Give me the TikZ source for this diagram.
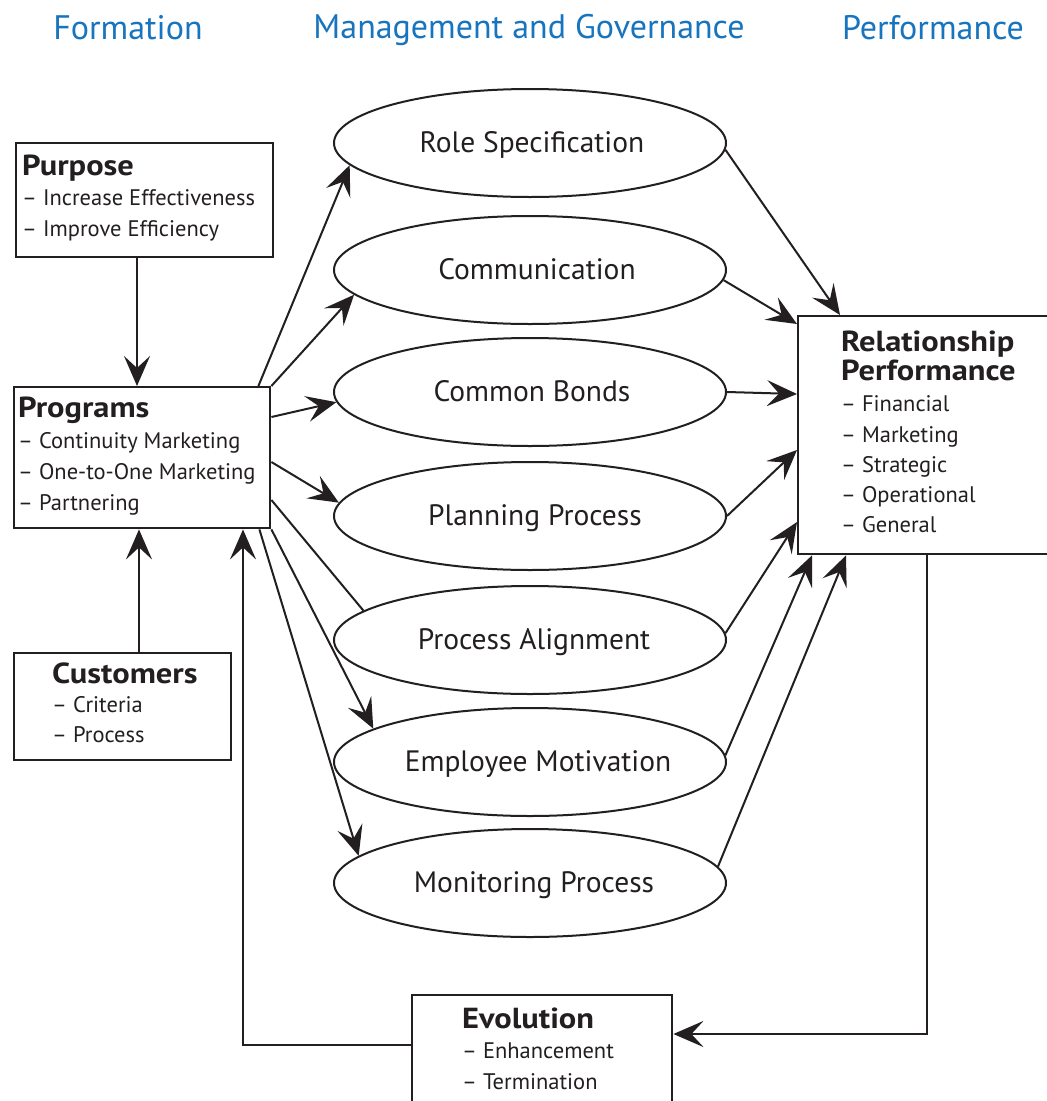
\documentclass[tikz,border=0pt]{standalone}
\usepackage{fontspec}
\setmainfont{PT Sans}
\usetikzlibrary{arrows.meta,shapes.geometric,calc}
\definecolor{ink}{RGB}{35,31,32}
\definecolor{hblue}{RGB}{23,116,190}
\newcommand{\boxtitle}[1]{\scalebox{1.12}[1]{#1}}
\begin{document}
\begin{tikzpicture}[x=1pt,y=-1pt,
  box/.style={draw=ink,line width=2.4pt,anchor=north west,inner sep=0pt,rectangle},
  oval/.style={draw=ink,line width=2pt,ellipse,minimum width=392pt,minimum height=108pt,inner sep=0pt},
  olabel/.style={anchor=base,inner sep=0pt,text=ink,font=\fontsize{29.5}{31}\selectfont},
  ttl/.style={anchor=base west,inner sep=0pt,text=ink,font=\bfseries\fontsize{29}{31}\selectfont},
  itm/.style={anchor=base west,inner sep=0pt,text=ink,font=\fontsize{22.5}{25}\selectfont},
  hdr/.style={anchor=base,inner sep=0pt,text=hblue,font=\fontsize{34}{36}\selectfont},
  con/.style={draw=ink,line width=2pt},
  arr/.style={con,-{Stealth[length=30pt,width=26pt,inset=12pt]}}]
\useasboundingbox (0,0) rectangle (1047,1101);
\clip (0,0) rectangle (1047,1101);
\fill[white] (0,0) rectangle (1047,1101);

% headers
\node[hdr] (h1) at (128,39) {Formation};
\node[hdr] (h2) at (529,38) {Management and Governance};
\node[hdr] (h3) at (933,39) {Performance};

% boxes
\node[box,minimum width=257pt,minimum height=114pt] (purpose) at (15,142) {};
\node[box,minimum width=256pt,minimum height=141pt] (prog) at (13,386) {};
\node[box,minimum width=217pt,minimum height=107pt] (cust) at (13,652) {};
\node[box,minimum width=263pt,minimum height=238pt] (rp) at (797,315) {};
\node[box,minimum width=260pt,minimum height=121pt] (evo) at (411,994) {};

% box texts
\node[ttl] (tpur) at (22,175) {\boxtitle{Purpose}};
\node[itm] (tpur1) at (22,205) {– Increase Effectiveness};
\node[itm] (tpur2) at (22,236) {– Improve Efficiency};

\node[ttl] (tprog) at (18,417) {\boxtitle{Programs}};
\node[itm] (tprog1) at (18,448) {– Continuity Marketing};
\node[itm] (tprog2) at (18,479) {– One-to-One Marketing};
\node[itm] (tprog3) at (18,510) {– Partnering};

\node[ttl] (tcus) at (52,683) {\boxtitle{Customers}};
\node[itm] (tcus1) at (52,712) {– Criteria};
\node[itm] (tcus2) at (52,742) {– Process};

\node[ttl] (trp1) at (841,351) {\boxtitle{Relationship}};
\node[ttl] (trp2) at (841,380) {\boxtitle{Performance}};
\node[itm] (trpa) at (841,411) {– Financial};
\node[itm] (trpb) at (841,442) {– Marketing};
\node[itm] (trpc) at (841,472) {– Strategic};
\node[itm] (trpd) at (841,502) {– Operational};
\node[itm] (trpe) at (841,532) {– General};

\node[ttl] (tevo) at (462,1028) {\boxtitle{Evolution}};
\node[itm] (tevo1) at (462,1058) {– Enhancement};
\node[itm] (tevo2) at (462,1089) {– Termination};

% ellipses
\node[oval] (rs) at (530,143) {};
\node[oval] (cm) at (530,270) {};
\node[oval] (cb) at (530,392) {};
\node[oval] (pp) at (530,516) {};
\node[oval] (pa) at (530,640) {};
\node[oval] (em) at (530,762) {};
\node[oval] (mp) at (530,883) {};

\node[olabel] (lrs) at (532,152) {Role Specification};
\node[olabel] (lcm) at (537,279) {Communication};
\node[olabel] (lcb) at (532,401) {Common Bonds};
\node[olabel] (lpp) at (535,525) {Planning Process};
\node[olabel] (lpa) at (534,649) {Process Alignment};
\node[olabel] (lem) at (538,771) {Employee Motivation};
\node[olabel] (lmp) at (534,892) {Monitoring Process};

% left connectors
\draw[arr] ($(purpose.south west)+(122,0)$) -- ($(prog.north west)+(124,0)$);
\draw[arr] ($(cust.north west)+(126,0)$) -- ($(prog.south west)+(126,0)$);
\draw[arr] ($(prog.north east)+(-13,0)$) -- (rs.187.8);
\draw[arr] (prog.north east) -- (cm.188.2);
\draw[arr] ($(prog.north east)+(0,31)$) -- (cb.183.3);
\draw[arr] ($(prog.north east)+(0,76)$) -- (pp.176.7);
\draw[con] ($(prog.north east)+(0,114)$) -- (pa.170);
\draw[arr] (prog.south east) -- (em.168.8);
\draw[arr] ($(prog.south east)+(-12,0)$) -- (mp.171.5);

% right connectors
\draw[arr] (rs.358.8) -- ($(rp.north west)+(43,0)$);
\draw[arr] (cm.357) -- ($(rp.north west)+(0,9)$);
\draw[arr] (cb.0) -- ($(rp.north west)+(0,79)$);
\draw[arr] (pp.0) -- ($(rp.north west)+(0,135)$);
\draw[arr] (pa.2.3) -- ($(rp.north west)+(0,207)$);
\draw[arr] (em.2.6) -- ($(rp.south west)+(15,0)$);
\draw[arr] (mp.5.5) -- ($(rp.south west)+(49,0)$);

% feedback loop
\draw[arr] ($(rp.south west)+(130,0)$) |- ($(evo.north east)+(0,40)$);
\draw[arr] ($(evo.north west)+(0,51)$) -| ($(prog.south west)+(230,0)$);
\end{tikzpicture}
\end{document}
